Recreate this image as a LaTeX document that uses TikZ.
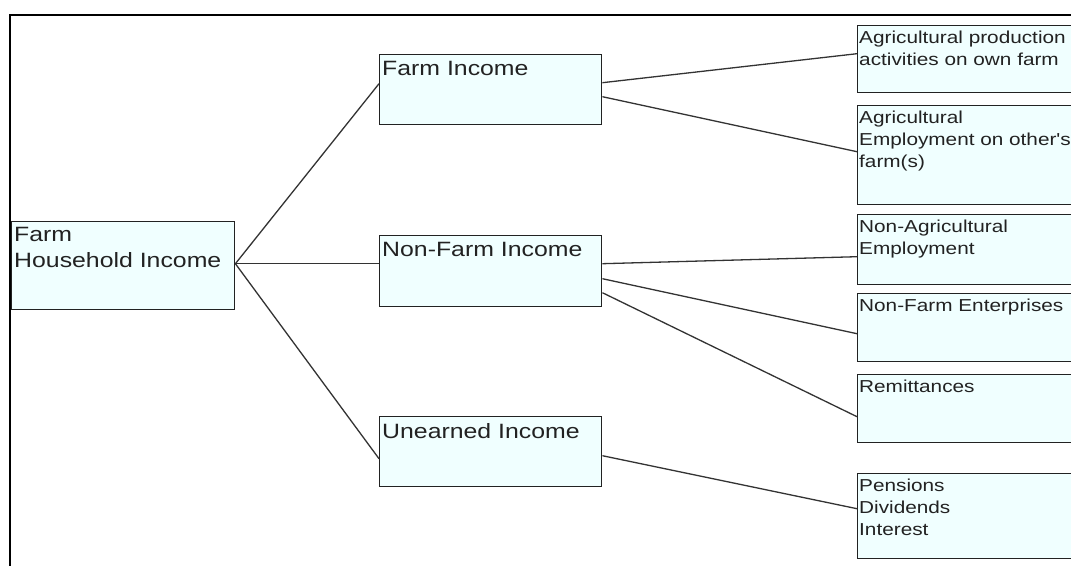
\documentclass[tikz,border=0pt]{standalone}
\usepackage{fontspec}
\setmainfont{Liberation Sans}
\newfontfamily\wfont[FakeStretch=1.2]{Liberation Sans}
\definecolor{boxfill}{HTML}{F0FFFF}
\definecolor{ink}{HTML}{222222}
\definecolor{linec}{HTML}{333333}
\tikzset{
  box/.style={draw=ink, line width=1.4pt, fill=boxfill, rectangle, inner sep=0pt, anchor=north west},
  bigtxt/.style={anchor=north west, inner sep=0pt, align=left, text=ink, font=\wfont\fontsize{20.7}{26}\selectfont},
  smalltxt/.style={anchor=north west, inner sep=0pt, align=left, text=ink, font=\wfont\fontsize{17.3}{21.8}\selectfont},
  conn/.style={draw=linec, line width=1.3pt},
  frame/.style={draw=black, line width=2pt}
}
\begin{document}
\begin{tikzpicture}[x=1pt,y=-1pt]
\useasboundingbox (0,0) rectangle (1071,565);
\clip (0,0) rectangle (1071,565);
\fill[white] (0,0) rectangle (1071,565);
\draw[frame] (10,570) -- (10,15) -- (1080,15);
% boxes
\node[box, minimum width=223pt, minimum height=88pt] (root) at (11,221) {};
\node[box, minimum width=222pt, minimum height=70pt] (farm) at (379,54) {};
\node[box, minimum width=222pt, minimum height=71pt] (nonfarm) at (379,235) {};
\node[box, minimum width=222pt, minimum height=70pt] (unearned) at (379,416) {};
\node[box, minimum width=220pt, minimum height=67pt] (ap) at (857,25) {};
\node[box, minimum width=220pt, minimum height=99pt] (ae) at (857,105) {};
\node[box, minimum width=220pt, minimum height=70pt] (nae) at (857,214) {};
\node[box, minimum width=220pt, minimum height=68pt] (nfe) at (857,293) {};
\node[box, minimum width=220pt, minimum height=68pt] (rem) at (857,374) {};
\node[box, minimum width=220pt, minimum height=85pt] (pen) at (857,473) {};
% texts
\node[bigtxt] (rootT) at ([xshift=3pt,yshift=-6pt]root.north west) {Farm\\Household Income};
\node[bigtxt] (farmT) at ([xshift=3pt,yshift=-7pt]farm.north west) {Farm Income};
\node[bigtxt] (nonfarmT) at ([xshift=3pt,yshift=-7pt]nonfarm.north west) {Non-Farm Income};
\node[bigtxt] (unearnedT) at ([xshift=3pt,yshift=-7pt]unearned.north west) {Unearned Income};
\node[smalltxt] (apT) at ([xshift=2pt,yshift=-6pt]ap.north west) {Agricultural production\\activities on own farm};
\node[smalltxt] (aeT) at ([xshift=2pt,yshift=-6pt]ae.north west) {Agricultural\\Employment on other's\\farm(s)};
\node[smalltxt] (naeT) at ([xshift=2pt,yshift=-6pt]nae.north west) {Non-Agricultural\\Employment};
\node[smalltxt] (nfeT) at ([xshift=2pt,yshift=-6pt]nfe.north west) {Non-Farm Enterprises};
\node[smalltxt] (remT) at ([xshift=2pt,yshift=-6pt]rem.north west) {Remittances};
\node[smalltxt] (penT) at ([xshift=2pt,yshift=-6pt]pen.north west) {Pensions\\Dividends\\Interest};
% connectors
\draw[conn] ([yshift=2pt]root.east) -- ([yshift=6pt]farm.west);
\draw[conn] ([yshift=2pt]root.east) -- ([yshift=7.5pt]nonfarm.west);
\draw[conn] ([yshift=2pt]root.east) -- ([yshift=-7pt]unearned.west);
\draw[conn] ([yshift=7pt]farm.east) -- ([yshift=5.5pt]ap.west);
\draw[conn] ([yshift=-7pt]farm.east) -- ([yshift=3.5pt]ae.west);
\draw[conn] ([yshift=7.5pt]nonfarm.east) -- ([yshift=-7pt]nae.west);
\draw[conn] ([yshift=-7.5pt]nonfarm.east) -- ([yshift=-6pt]nfe.west);
\draw[conn] ([yshift=-21.5pt]nonfarm.east) -- ([yshift=-8pt]rem.west);
\draw[conn] ([yshift=-4pt]unearned.east) -- ([yshift=7.5pt]pen.west);
\end{tikzpicture}
\end{document}
